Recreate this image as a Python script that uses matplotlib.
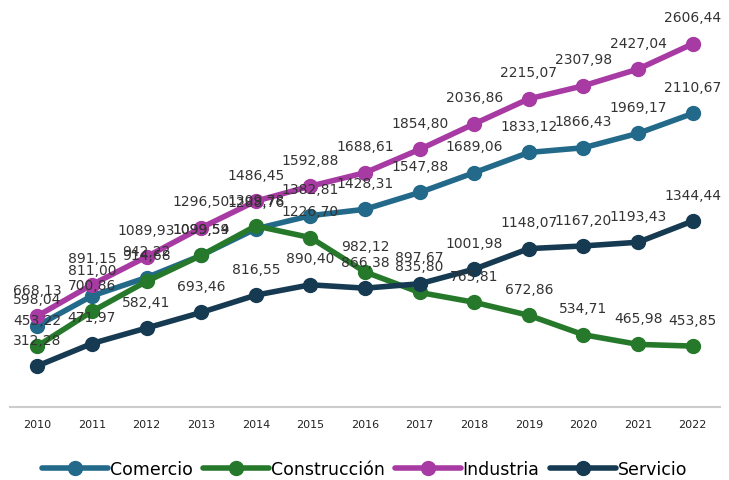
import matplotlib.pyplot as plt

years = ['2010', '2011', '2012', '2013', '2014', '2015', '2016',
         '2017', '2018', '2019', '2020', '2021', '2022']

comercio = [598.04, 811.00, 942.22, 1099.54, 1288.76, 1382.81, 1428.31,
            1547.88, 1689.06, 1833.12, 1866.43, 1969.17, 2110.67]
construccion = [453.22, 700.86, 914.68, 1099.59, 1309.78, 1226.70, 982.12,
                835.80, 765.81, 672.86, 534.71, 465.98, 453.85]
industria = [668.13, 891.15, 1089.93, 1296.50, 1486.45, 1592.88, 1688.61,
             1854.80, 2036.86, 2215.07, 2307.98, 2427.04, 2606.44]
servicio = [312.28, 471.97, 582.41, 693.46, 816.55, 890.40, 866.38,
            897.67, 1001.98, 1148.07, 1167.20, 1193.43, 1344.44]

series = [
    ('Comercio', comercio, '#22698a'),
    ('Construcción', construccion, '#26792b'),
    ('Industria', industria, '#a83aa3'),
    ('Servicio', servicio, '#163a52'),
]


def fmt(v):
    return f'{v:.2f}'.replace('.', ',')


fig = plt.figure(figsize=(7.29, 4.81), dpi=100)
ax = fig.add_axes([10 / 729, 73 / 481, 710 / 729, 408 / 481])

x = list(range(len(years)))
for name, vals, color in series:
    ax.plot(x, vals, color=color, lw=4, marker='o', ms=10,
            solid_capstyle='round', label=name)
    for xi, v in zip(x, vals):
        ax.annotate(fmt(v), (xi, v), xytext=(0, 19), textcoords='offset points',
                    ha='center', va='center', fontsize=10, color='#333333')

ax.set_xlim(-0.5, len(years) - 0.5)
ax.set_ylim(20, 2926)
ax.set_xticks(x)
ax.set_xticklabels(years, fontsize=8, color='#222222', fontweight='medium')
ax.tick_params(axis='x', length=0, pad=9)
ax.set_yticks([])
for side in ['top', 'left', 'right']:
    ax.spines[side].set_visible(False)
ax.spines['bottom'].set_color('#cccccc')
ax.spines['bottom'].set_linewidth(1.5)

leg = fig.legend(loc='center', bbox_to_anchor=(0.5, 11 / 481), ncol=4,
                 frameon=False, fontsize=12.5, handlelength=3.8,
                 handletextpad=0.1, columnspacing=0.6)

fig.savefig('out.png', dpi=100)
